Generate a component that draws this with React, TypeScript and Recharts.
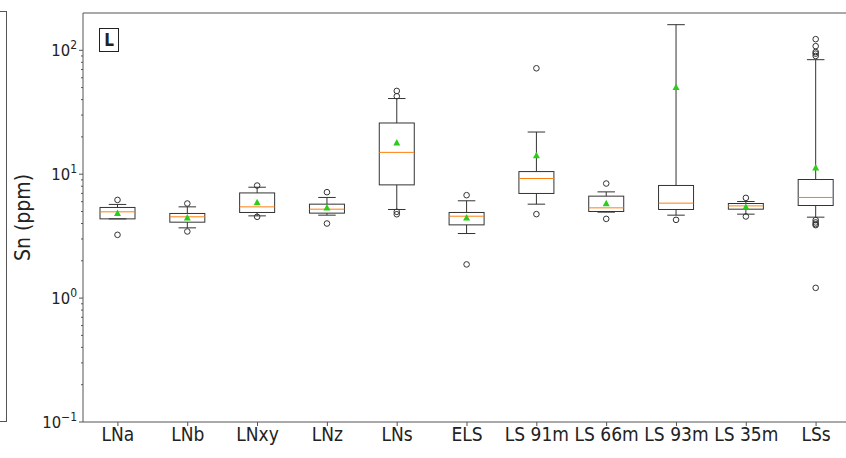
import { ComposedChart, Bar, XAxis, YAxis, ReferenceLine } from 'recharts';

const categories = ['LNa', 'LNb', 'LNxy', 'LNz', 'LNs', 'ELS', 'LS 91m', 'LS 66m', 'LS 93m', 'LS 35m', 'LSs'];
const whiskerLow = [4.36, 3.69, 4.61, 4.67, 5.19, 3.32, 5.73, 4.94, 4.67, 4.76, 4.5];
const q1 = [4.36, 4.1, 4.91, 4.85, 8.2, 3.9, 6.99, 5.0, 5.19, 5.22, 5.59];
const median = [4.97, 4.53, 5.45, 5.22, 15.0, 4.58, 9.23, 5.35, 5.84, 5.55, 6.49];
const q3 = [5.39, 4.82, 7.06, 5.73, 25.9, 4.91, 10.5, 6.65, 8.11, 5.8, 9.06];
const whiskerHigh = [5.7, 5.45, 7.85, 6.49, 40.8, 6.1, 21.9, 7.2, 161, 6.02, 84];
const means = [4.87, 4.47, 5.94, 5.39, 18, 4.47, 14.2, 5.84, 50.6, 5.45, 11.3];
const outliers = [
  [6.2, 3.24],
  [5.8, 3.45],
  [8.1, 4.53],
  [7.16, 4.0],
  [47, 42.6, 4.97, 4.75],
  [6.77, 1.87],
  [71.6, 4.76],
  [8.41, 4.36],
  [4.28],
  [6.44, 4.56],
  [123, 108, 96.9, 94, 90, 4.26, 4.08, 3.95, 3.88, 1.21],
];

const majorTicks = [0.1, 1, 10, 100];
const minorTicks = [
  0.2, 0.3, 0.4, 0.5, 0.6, 0.7, 0.8, 0.9,
  2, 3, 4, 5, 6, 7, 8, 9,
  20, 30, 40, 50, 60, 70, 80, 90,
];
const exponents: Record<string, string> = { '0.1': '\u22121', '1': '0', '10': '1', '100': '2' };

const data = categories.map((name, i) => ({
  name,
  box: [q1[i], q3[i]],
  low: whiskerLow[i],
  high: whiskerHigh[i],
  med: median[i],
  mean: means[i],
  out: outliers[i],
}));

const LINE = '#333';
const FONT = '"DejaVu Sans Condensed", "DejaVu Sans", sans-serif';

// box drawn inside the bar, other values placed with the bar's own log mapping
const BoxShape = (props: any) => {
  const { x, y, width, height, payload } = props;
  const [lo, hi] = payload.box;
  const ppl = height / (Math.log10(hi) - Math.log10(lo));
  const toY = (v: number) => y + (Math.log10(hi) - Math.log10(v)) * ppl;
  const cx = x + width / 2;
  const cap = width / 4;
  return (
    <g>
      <line x1={cx} x2={cx} y1={toY(payload.high)} y2={y} stroke={LINE} strokeWidth={1} />
      <line x1={cx} x2={cx} y1={y + height} y2={toY(payload.low)} stroke={LINE} strokeWidth={1} />
      <line x1={cx - cap} x2={cx + cap} y1={toY(payload.high)} y2={toY(payload.high)} stroke={LINE} strokeWidth={1} />
      <line x1={cx - cap} x2={cx + cap} y1={toY(payload.low)} y2={toY(payload.low)} stroke={LINE} strokeWidth={1} />
      <rect x={x} y={y} width={width} height={height} fill="none" stroke={LINE} strokeWidth={1} />
      <line x1={x} x2={x + width} y1={toY(payload.med)} y2={toY(payload.med)} stroke="#ff7f0e" strokeWidth={1} />
      {payload.out.map((v: number, k: number) => (
        <circle key={k} cx={cx} cy={toY(v)} r={2.8} fill="none" stroke={LINE} strokeWidth={1} />
      ))}
      <path
        d={`M${cx - 3.5},${toY(payload.mean) + 3} L${cx + 3.5},${toY(payload.mean) + 3} L${cx},${toY(payload.mean) - 3.5} Z`}
        fill="#2ecc1a"
      />
    </g>
  );
};

const YTick = (props: any) => {
  const { x, y, payload } = props;
  const v = payload.value;
  const axisX = x + 6;
  const major = majorTicks.includes(v);
  return (
    <g>
      <line x1={axisX} x2={axisX - (major ? 4 : 2)} y1={y} y2={y} stroke="#555" strokeWidth={1} />
      {major && (
        <text x={axisX - 6} y={y + 6} textAnchor="end" fontSize={16.5} fill="#222" fontFamily={FONT}>
          10
          <tspan dy={-7} fontSize={12}>{exponents[String(v)]}</tspan>
        </text>
      )}
    </g>
  );
};

const YLabel = (props: any) => {
  const { viewBox } = props;
  const cy = viewBox.y + viewBox.height / 2;
  return (
    <text
      transform={`translate(23,${cy}) rotate(-90)`}
      textAnchor="middle"
      dominantBaseline="central"
      fontSize={21}
      fill="#222"
      fontFamily={FONT}
    >
      Sn (ppm)
    </text>
  );
};

export default function App() {
  return (
    <div style={{ position: 'absolute', left: 0, top: 0, width: 846, height: 458, overflow: 'hidden', background: '#fff' }}>
      <div
        style={{
          position: 'absolute',
          left: -10,
          top: 11,
          width: 16,
          height: 409,
          borderTop: '1px solid #555',
          borderBottom: '1px solid #555',
          borderRight: '1px solid #555',
        }}
      />
      <ComposedChart
        width={860}
        height={458}
        data={data}
        margin={{ top: 13, right: 9, bottom: 0, left: 0 }}
        style={{ fontFamily: FONT }}
      >
        <XAxis
          dataKey="name"
          interval={0}
          height={36}
          tickSize={4}
          tickMargin={2}
          stroke="#555"
          tick={{ fill: '#222', fontSize: 19, fontFamily: FONT }}
        />
        <YAxis
          scale="log"
          domain={[0.1, 200]}
          allowDataOverflow
          ticks={[...majorTicks, ...minorTicks]}
          interval={0}
          width={83}
          tickSize={4}
          tickMargin={2}
          tickLine={false}
          stroke="#555"
          tick={<YTick />}
          label={<YLabel />}
        />
        <ReferenceLine y={200} stroke="#555" strokeWidth={1} ifOverflow="visible" />
        <Bar dataKey="box" barSize={35} shape={<BoxShape />} isAnimationActive={false} />
      </ComposedChart>
      <div
        style={{
          position: 'absolute',
          left: 99,
          top: 28,
          width: 18,
          height: 22,
          border: '1px solid #222',
          fontFamily: FONT,
          fontWeight: 'bold',
          fontSize: 17,
          lineHeight: '22px',
          textAlign: 'center',
          color: '#222',
        }}
      >
        L
      </div>
    </div>
  );
}
